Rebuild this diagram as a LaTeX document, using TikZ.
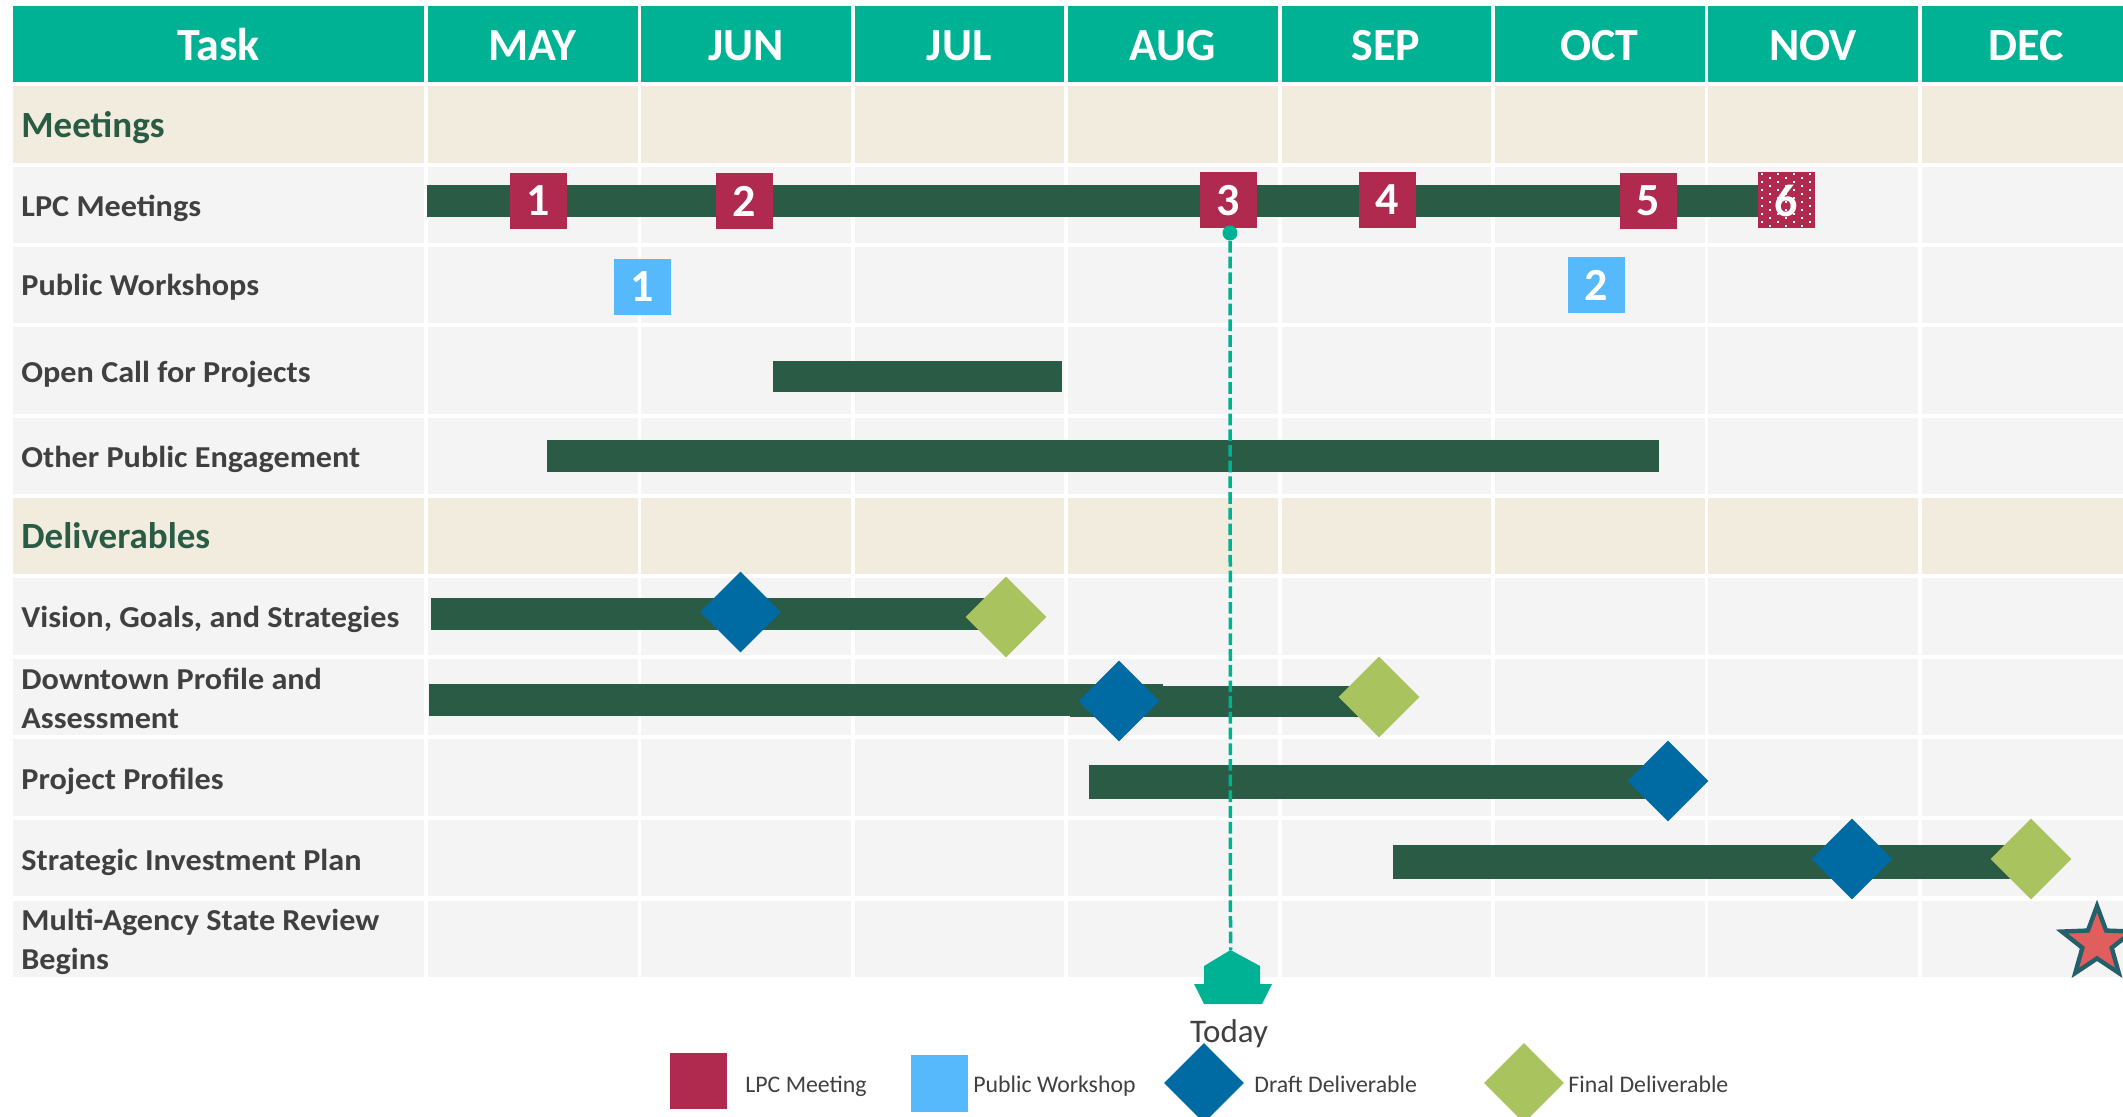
\documentclass[tikz,border=0pt]{standalone}
\usepackage{fontspec}
\setmainfont{Carlito}
\newfontfamily\lblfont[FakeStretch=1.06]{Carlito}
\usetikzlibrary{shapes.geometric}
\definecolor{hdrteal}{HTML}{00B294}
\definecolor{beige}{HTML}{F2ECDF}
\definecolor{cellgray}{HTML}{F4F4F4}
\definecolor{bargreen}{HTML}{2A5B45}
\definecolor{lpcred}{HTML}{B0294F}
\definecolor{pwblue}{HTML}{55B9FC}
\definecolor{draftblue}{HTML}{006AA3}
\definecolor{finalgreen}{HTML}{A9C35E}
\definecolor{txtgray}{HTML}{404040}
\definecolor{starred}{HTML}{E05E5E}
\definecolor{staredge}{HTML}{23606A}
\begin{document}
\begin{tikzpicture}[x=0.5pt,y=-0.5pt,
  lbl/.style={anchor=base west,inner sep=0pt,text=txtgray,font=\lblfont\fontsize{15.2}{19.5}\selectfont\bfseries},
  lbltwo/.style={anchor=west,align=left,text=txtgray,inner sep=0pt,font=\lblfont\fontsize{15.2}{19.5}\selectfont\bfseries},
  sect/.style={anchor=base west,text=bargreen,inner sep=0pt,font=\fontsize{18.5}{20}\selectfont\bfseries},
  hdr/.style={anchor=base,text=white,font=\fontsize{23}{24}\selectfont\bfseries},
  mbox/.style={rectangle,inner sep=0pt,minimum width=28.5pt,minimum height=28pt,text=white,font=\fontsize{23}{24}\selectfont\bfseries},
  lpc/.style={mbox,fill=lpcred},
  pw/.style={mbox,fill=pwblue},
  dia/.style={diamond,inner sep=0pt,minimum width=40.5pt,minimum height=40.5pt},
  draft/.style={dia,fill=draftblue},
  final/.style={dia,fill=finalgreen},
  bar/.style={fill=bargreen},
  leg/.style={anchor=base west,inner sep=0pt,text=txtgray,font=\fontsize{11.9}{12}\selectfont}
]
\fill[white] (0,0) rectangle (2123,1117);
\useasboundingbox (0,0) rectangle (2123,1117);

% header cells
\fill[hdrteal] (13,6) rectangle (424,82);
\foreach \i in {0,...,7} \fill[hdrteal] ({428+213.4*\i},6) rectangle ({637.5+213.4*\i},82);

% body cells
\foreach \t/\b/\c in {86/163/beige,167/243/cellgray,247/323/cellgray,327/414/cellgray,418/494/cellgray,498/574/beige,578/655/cellgray,659/735/cellgray,739/816/cellgray,820/896/cellgray,901/977/cellgray}{
  \fill[\c] (13,\t) rectangle (424,\b);
  \foreach \i in {0,...,7} \fill[\c] ({428+213.4*\i},\t) rectangle ({637.5+213.4*\i},\b);
}

% header texts
\node[hdr] (hTask) at (218.5,61) {Task};
\foreach \m [count=\k from 0] in {MAY,JUN,JUL,AUG,SEP,OCT,NOV,DEC}
  \node[hdr] (h\m) at ({532.5+213.4*\k},61) {\m};

% row labels
\node[sect] (sMeet) at (21,138) {Meetings};
\node[lbl] (lLPC) at (21,217) {LPC Meetings};
\node[lbl] (lPW) at (21,296) {Public Workshops};
\node[lbl] (lOC) at (21,382) {Open Call for Projects};
\node[lbl] (lOPE) at (21,467) {Other Public Engagement};
\node[sect] (sDel) at (21,548) {Deliverables};
\node[lbl] (lVis) at (21,627) {Vision, Goals, and Strategies};
\node[lbltwo] (lDT) at (21,698) {Downtown Profile and\\Assessment};
\node[lbl] (lPP) at (21,789) {Project Profiles};
\node[lbl] (lSIP) at (21,870) {Strategic Investment Plan};
\node[lbltwo] (lMA) at (21,942) {Multi-Agency State Review\\Begins};

% bars
\fill[bar] (427,185) rectangle (1759,217);
\fill[bar] (773,361) rectangle (1062,392);
\fill[bar] (547,440) rectangle (1659,472);
\fill[bar] (431,598) rectangle (990,630);
\fill[bar] (429,684) rectangle (1163,716);
\fill[bar] (1070,686) rectangle (1360,717);
\fill[bar] (1089,765) rectangle (1645,799);
\fill[bar] (1393,845) rectangle (2010,879);

% LPC meetings
\node[lpc] (m1) at (538.5,201) {1};
\node[lpc] (m2) at (744.5,201) {2};
\node[lpc] (m3) at (1228.5,200.5) {3};
\node[lpc] (m4) at (1387.5,200) {4};
\node[lpc] (m5) at (1648.5,201) {5};
\node[lpc] (m6) at (1786.5,200.5) {};
\begin{scope}
  \clip (1758,172) rectangle (1815,229);
  \foreach \r in {0,...,14} \foreach \c in {0,...,3}
    \fill[white] ({1761+16*\c+8*mod(\r,2)},{173+4*\r}) rectangle ++(2,2);
\end{scope}
\node[text=white,font=\fontsize{23}{24}\selectfont\bfseries,inner sep=0pt] (m6t) at (m6) {6};

% public workshops
\node[pw] (w1) at (642.5,287) {1};
\node[pw] (w2) at (1596.5,285.5) {2};

% deliverables
\node[draft] (dVis) at (740.5,612) {};
\node[final] (fVis) at (1006,617) {};
\node[draft] (dDT) at (1119,701) {};
\node[final] (fDT) at (1379,697) {};
\node[draft] (dPP) at (1668,781) {};
\node[draft] (dSIP) at (1852,859) {};
\node[final] (fSIP) at (2031,859) {};

% star
\node[star,star points=5,star point ratio=2.4,fill=starred,draw=staredge,line width=2.2pt,minimum size=37pt,inner sep=0pt] (rev) at (2097,943) {};

% today marker
\coordinate (ttop) at (1230.5,950);
\node[circle,fill=hdrteal,inner sep=0pt,minimum size=7.5pt] (tdot) at (1230,233) {};
\draw[hdrteal,line width=1.75pt,dash pattern=on 5.85pt off 2pt] (tdot) -- (ttop);
\fill[hdrteal] (ttop) -- (1260,966) -- (1260,984) -- (1272,984) -- (1262,1004) -- (1204,1004) -- (1194,984) -- (1204,984) -- (1204,966) -- cycle;
\node[anchor=base,inner sep=0pt,text=txtgray,font=\fontsize{16.5}{17}\selectfont] (today) at (1229,1042) {Today};

% legend
\node[lpc] (legLPC) at (698.5,1081) {};
\node[leg] (legLPCt) at (745,1092) {LPC Meeting};
\node[pw,minimum height=28.5pt] (legPW) at (939,1083.5) {};
\node[leg] (legPWt) at (973,1092) {Public Workshop};
\node[draft,minimum width=40pt,minimum height=40pt] (legD) at (1204,1083) {};
\node[leg] (legDt) at (1254,1092) {Draft Deliverable};
\node[final,minimum width=40pt,minimum height=40pt] (legF) at (1524,1083) {};
\node[leg] (legFt) at (1568,1092) {Final Deliverable};
\end{tikzpicture}
\end{document}
